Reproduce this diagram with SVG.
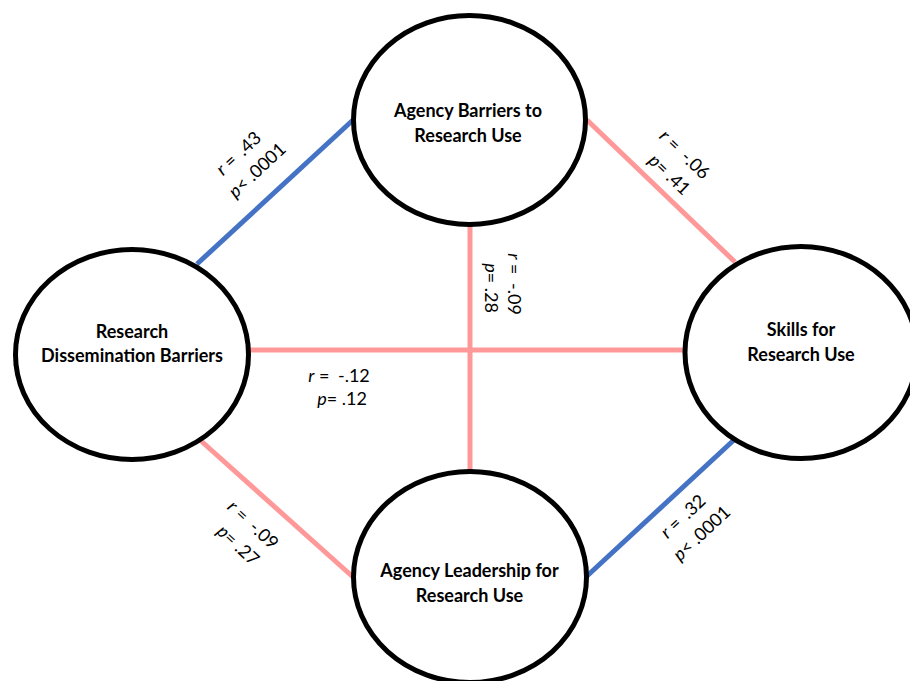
<svg xmlns="http://www.w3.org/2000/svg" width="910" height="681" viewBox="0 0 910 681">
  <style>
    .link { fill: none; stroke-width: 5; stroke-linecap: butt; }
    .pos { stroke: #4472C4; }
    .neg { stroke: #FF9999; }
    .node ellipse { fill: #FFFFFF; stroke: #000000; stroke-width: 5; }
    .node text { font-family: Lato, "Open Sans", "Liberation Sans", sans-serif; font-weight: bold; font-size: 18px; fill: #000000; text-anchor: middle; }
    .stat { font-family: Lato, "Open Sans", "Liberation Sans", sans-serif; font-size: 18px; fill: #000000; text-anchor: middle; }
    .stat .v { font-style: italic; }
  </style>
  <rect width="910" height="681" fill="#FFFFFF"/>

  <!-- connectors -->
  <g id="connectors">
    <line class="link pos" x1="197" y1="264" x2="353" y2="120"/>
    <line class="link neg" x1="587" y1="120" x2="735" y2="262"/>
    <line class="link neg" x1="470" y1="226" x2="470" y2="472"/>
    <line class="link neg" x1="249" y1="350" x2="685" y2="350"/>
    <line class="link neg" x1="200" y1="440" x2="353" y2="577"/>
    <line class="link pos" x1="587" y1="576" x2="735" y2="439"/>
  </g>

  <!-- nodes -->
  <g id="agency-barriers" class="node">
    <ellipse cx="469.5" cy="120" rx="116" ry="104.5"/>
    <text x="468" y="117">Agency Barriers to</text>
    <text x="468" y="142">Research Use</text>
  </g>
  <g id="dissemination-barriers" class="node">
    <ellipse cx="132" cy="354.5" rx="116.5" ry="105"/>
    <text x="132" y="338">Research</text>
    <text x="132" y="362">Dissemination Barriers</text>
  </g>
  <g id="skills" class="node">
    <ellipse cx="801" cy="352.5" rx="116" ry="106"/>
    <text x="801" y="336">Skills for</text>
    <text x="801" y="361">Research Use</text>
  </g>
  <g id="agency-leadership" class="node">
    <ellipse cx="470" cy="577" rx="116.5" ry="105.5"/>
    <text x="469.5" y="577">Agency Leadership for</text>
    <text x="469.5" y="602">Research Use</text>
  </g>

  <!-- correlation labels -->
  <g id="labels">
    <g transform="translate(247.5,163) rotate(-43)">
      <text class="stat" y="-7"><tspan class="v">r</tspan> = <tspan dx="3">.43</tspan></text>
      <text class="stat" x="2" y="18"><tspan class="v">p</tspan>&lt; .0001</text>
    </g>
    <g transform="translate(675.5,164) rotate(44)">
      <text class="stat" y="-7"><tspan class="v">r</tspan> = <tspan dx="4">-.06</tspan></text>
      <text class="stat" x="3" y="18"><tspan class="v">p</tspan>= .41</text>
    </g>
    <g transform="translate(501.5,286) rotate(90)">
      <text class="stat" x="-2" y="-6"><tspan class="v">r</tspan> = <tspan dx="4">-.09</tspan></text>
      <text class="stat" x="2" y="17"><tspan class="v">p</tspan>= .28</text>
    </g>
    <text class="stat" x="339" y="382"><tspan class="v">r</tspan> = <tspan dx="4">-.12</tspan></text>
    <text class="stat" x="342" y="405"><tspan class="v">p</tspan>= .12</text>
    <g transform="translate(244,534.5) rotate(43)">
      <text class="stat" y="-7"><tspan class="v">r</tspan> = <tspan dx="4">-.09</tspan></text>
      <text class="stat" x="3" y="18"><tspan class="v">p</tspan>= .27</text>
    </g>
    <g transform="translate(692,526) rotate(-43)">
      <text class="stat" y="-7"><tspan class="v">r</tspan> = <tspan dx="3">.32</tspan></text>
      <text class="stat" x="2" y="18"><tspan class="v">p</tspan>&lt; .0001</text>
    </g>
  </g>
</svg>
